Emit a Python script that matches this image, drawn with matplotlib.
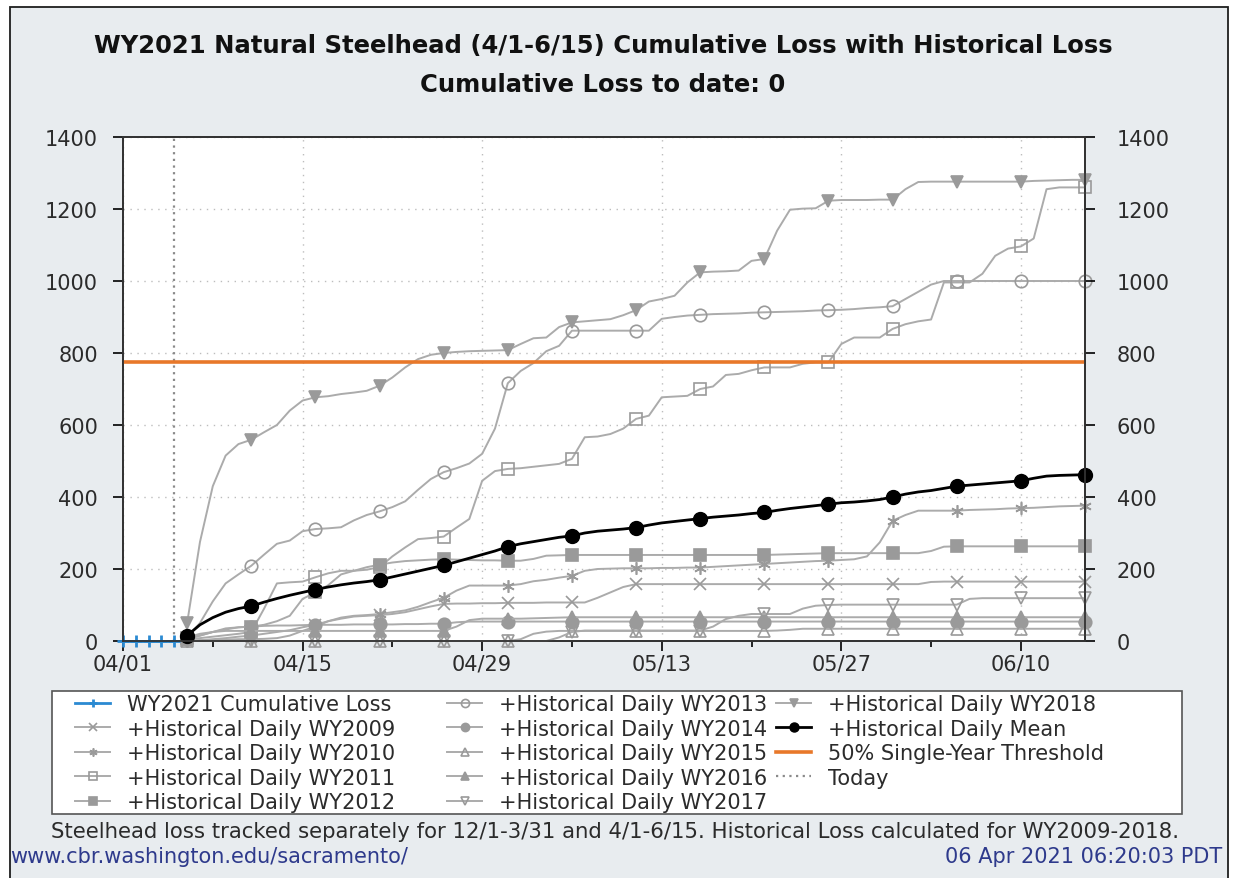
import matplotlib.pyplot as plt
from matplotlib.patches import Rectangle

# x positions are days after 04/01
days_2021 = [0, 1, 2, 3, 4]
loss_2021 = [0, 0, 0, 0, 0]
days_hist = list(range(5, 76))
today_day = 4
threshold = 775

tick_days = [0, 14, 28, 42, 56, 70]
tick_labels = ['04/01', '04/15', '04/29', '05/13', '05/27', '06/10']
minor_days = [7, 21, 35, 49, 63]
y_ticks = [0, 200, 400, 600, 800, 1000, 1200, 1400]

# daily cumulative loss, 04/06 .. 06/15 (first value, then 5-day blocks)
wy2009 = [0,
          2, 5, 8, 12, 15,
          20, 25, 30, 38, 45,
          55, 62, 68, 70, 72,
          75, 80, 88, 96, 103,
          104, 104, 105, 105, 106,
          106, 106, 107, 107, 107,
          107, 120, 135, 150, 158,
          158, 158, 158, 158, 158,
          158, 158, 158, 158, 158,
          158, 158, 158, 158, 158,
          158, 158, 158, 158, 158,
          158, 158, 164, 165, 165,
          165, 165, 165, 165, 165,
          165, 165, 165, 165, 165]
wy2010 = [0,
          2, 3, 4, 5, 5,
          6, 8, 15, 28, 40,
          55, 65, 70, 72, 75,
          80, 85, 95, 108, 120,
          140, 154, 154, 154, 154,
          158, 166, 170, 176, 181,
          195, 200, 201, 202, 202,
          202, 203, 203, 204, 204,
          206, 208, 210, 212, 214,
          216, 218, 220, 222, 223,
          225, 227, 235, 274, 334,
          350, 362, 362, 362, 362,
          364, 365, 366, 368, 369,
          370, 372, 374, 375, 376]
wy2011 = [5,
          8, 12, 16, 20, 25,
          90, 160, 163, 165, 177,
          188, 195, 195, 198, 205,
          235, 260, 283, 286, 290,
          315, 339, 445, 472, 478,
          480, 484, 488, 492, 506,
          566, 568, 575, 590, 617,
          626, 677, 679, 681, 700,
          707, 739, 742, 752, 760,
          760, 760, 770, 774, 774,
          825, 843, 843, 843, 867,
          880, 888, 893, 996, 996,
          996, 1020, 1070, 1090, 1096,
          1118, 1255, 1260, 1260, 1260]
wy2012 = [8,
          15, 25, 35, 38, 40,
          45, 55, 70, 117, 135,
          155, 185, 195, 205, 212,
          218, 222, 224, 226, 227,
          226, 225, 224, 224, 223,
          223, 228, 237, 238, 239,
          239, 239, 239, 239, 239,
          239, 239, 239, 239, 239,
          239, 239, 239, 239, 239,
          240, 241, 242, 243, 244,
          244, 244, 244, 244, 244,
          244, 244, 250, 262, 263,
          263, 263, 263, 263, 263,
          263, 263, 263, 263, 263]
wy2013 = [10,
          50, 110, 160, 185, 209,
          240, 270, 279, 305, 311,
          313, 316, 335, 350, 360,
          372, 388, 420, 450, 469,
          480, 493, 520, 590, 716,
          750, 772, 805, 820, 862,
          862, 862, 862, 862, 862,
          862, 895, 900, 904, 906,
          908, 909, 910, 912, 913,
          914, 915, 916, 918, 919,
          920, 922, 925, 927, 930,
          950, 970, 990, 1000, 1000,
          1000, 1000, 1000, 1000, 1000,
          1000, 1000, 1000, 1000, 1000]
wy2014 = [5,
          15, 25, 32, 38, 40,
          42, 43, 43, 44, 45,
          45, 45, 46, 46, 46,
          46, 47, 47, 48, 48,
          52, 54, 54, 54, 54,
          54, 54, 54, 54, 54,
          54, 54, 54, 54, 54,
          54, 54, 54, 54, 54,
          54, 54, 54, 54, 54,
          54, 54, 54, 54, 54,
          54, 54, 54, 54, 54,
          54, 54, 54, 54, 54,
          54, 54, 54, 54, 54,
          54, 54, 54, 54, 54]
wy2015 = [0,
          0, 0, 0, 0, 0,
          0, 0, 0, 0, 0,
          0, 0, 0, 0, 0,
          0, 0, 0, 0, 0,
          0, 0, 0, 0, 0,
          5, 20, 26, 28, 28,
          28, 28, 28, 28, 28,
          28, 28, 28, 28, 28,
          28, 28, 28, 28, 28,
          29, 31, 34, 34, 34,
          34, 34, 34, 34, 34,
          34, 34, 34, 34, 34,
          34, 34, 34, 34, 34,
          34, 34, 34, 34, 34]
wy2016 = [10,
          20, 25, 28, 28, 28,
          28, 28, 28, 28, 28,
          28, 28, 28, 28, 28,
          28, 28, 28, 28, 28,
          40, 58, 62, 62, 62,
          62, 63, 64, 65, 66,
          66, 66, 66, 66, 66,
          66, 66, 66, 66, 66,
          66, 66, 66, 66, 66,
          66, 66, 66, 66, 66,
          66, 66, 66, 66, 66,
          66, 66, 66, 66, 66,
          66, 66, 66, 66, 66,
          66, 66, 66, 66, 66]
wy2017 = [0,
          0, 0, 0, 0, 0,
          0, 0, 0, 0, 0,
          0, 0, 0, 0, 0,
          0, 0, 0, 0, 0,
          0, 0, 0, 0, 0,
          0, 0, 0, 10, 25,
          29, 29, 29, 29, 29,
          29, 29, 29, 29, 29,
          40, 61, 70, 75, 75,
          75, 75, 90, 98, 100,
          101, 101, 101, 101, 101,
          101, 101, 101, 101, 101,
          117, 119, 119, 119, 119,
          119, 119, 119, 119, 119]
wy2018 = [50,
          275, 430, 515, 547, 559,
          580, 600, 640, 668, 677,
          680, 686, 690, 695, 709,
          732, 760, 783, 795, 800,
          803, 805, 806, 807, 808,
          825, 841, 843, 872, 885,
          888, 891, 894, 905, 919,
          943, 950, 959, 996, 1024,
          1026, 1027, 1029, 1056, 1061,
          1140, 1198, 1201, 1202, 1223,
          1225, 1225, 1225, 1226, 1226,
          1255, 1275, 1276, 1276, 1276,
          1276, 1276, 1276, 1276, 1276,
          1278, 1279, 1280, 1281, 1281]
hist_mean = [15,
             45, 65, 80, 90, 97,
             108, 118, 127, 135, 143,
             150, 156, 161, 165, 170,
             178, 186, 194, 202, 210,
             220, 230, 240, 250, 262,
             270, 276, 282, 288, 292,
             300, 305, 308, 311, 315,
             322, 328, 332, 336, 340,
             344, 347, 350, 354, 357,
             363, 368, 372, 376, 380,
             384, 386, 389, 393, 400,
             408, 414, 418, 424, 430,
             433, 436, 439, 442, 445,
             452, 458, 460, 461, 462]

years = ['WY2009', 'WY2010', 'WY2011', 'WY2012', 'WY2013',
         'WY2014', 'WY2015', 'WY2016', 'WY2017', 'WY2018']
year_series = [wy2009, wy2010, wy2011, wy2012, wy2013,
               wy2014, wy2015, wy2016, wy2017, wy2018]
year_markers = [('x', True), ((6, 2, 0), True), ('s', False), ('s', True), ('o', False),
                ('o', True), ('^', False), ('^', True), ('v', False), ('v', True)]

GRAY_LINE = '#ababab'
GRAY_MARK = '#9a9a9a'
TEXT = '#2b2b2b'
FS = 15

fig = plt.figure(figsize=(12.33, 8.79), dpi=100)
fig.patch.set_facecolor('white')
fig.patches.append(Rectangle((10 / 1233, -0.01), 1218 / 1233, 1.01 - 8 / 879,
                             transform=fig.transFigure, facecolor='#e8ecef',
                             edgecolor='#1e1e1e', lw=1.3, zorder=-10))

ax = fig.add_axes([123 / 1233, 1 - 642 / 879, (1085 - 123) / 1233, (642 - 138) / 879])
ax.set_facecolor('white')

handles = []
h, = ax.plot(days_2021, loss_2021, color='#2b8ad2', lw=2, marker='+', ms=8, mew=2,
             label='WY2021 Cumulative Loss', zorder=6, clip_on=False)
handles.append(h)

mark_idx = [i for i, d in enumerate(days_hist) if d % 5 == 0]
for name, vals, (mk, filled) in zip(years, year_series, year_markers):
    h, = ax.plot(days_hist, vals, color=GRAY_LINE, lw=1.4, marker=mk, markevery=mark_idx,
                 ms=9, mec=GRAY_MARK, mfc=GRAY_MARK if filled else 'none', mew=1.2,
                 label='+Historical Daily ' + name, zorder=3, clip_on=False)
    handles.append(h)

h, = ax.plot(days_hist, hist_mean, color='black', lw=2, marker='o', markevery=mark_idx,
             ms=10, label='+Historical Daily Mean', zorder=4, clip_on=False)
handles.append(h)

h = ax.axhline(threshold, color='#e8782a', lw=2.6, label='50% Single-Year Threshold', zorder=5)
handles.append(h)
h = ax.axvline(today_day, color='#8a8a8a', lw=1.6, ls=(0, (1, 2)), label='Today', zorder=2)
handles.append(h)

ax.set_xlim(0, 75)
ax.set_ylim(0, 1400)
ax.set_xticks(tick_days)
ax.set_xticklabels(tick_labels)
ax.set_xticks(minor_days, minor=True)
ax.set_yticks(y_ticks)
ax.grid(True, color='#bdbdbd', ls=(0, (1, 4)), lw=1)
ax.tick_params(axis='x', which='major', direction='out', length=7, width=1.2,
               labelsize=FS, labelcolor=TEXT, pad=2)
ax.tick_params(axis='x', which='minor', direction='out', length=4, width=1.2)
ax.tick_params(axis='y', direction='out', length=7, width=1.2, labelsize=FS,
               labelcolor=TEXT, pad=11)
for sp in ax.spines.values():
    sp.set_color('#333333')
    sp.set_linewidth(1.3)

ax2 = ax.twinx()
ax2.set_ylim(0, 1400)
ax2.set_yticks(y_ticks)
ax2.tick_params(axis='y', direction='out', length=7, width=1.2, labelsize=FS,
                labelcolor=TEXT, pad=16)
for sp in ax2.spines.values():
    sp.set_color('#333333')
    sp.set_linewidth(1.3)

fig.text(603 / 1233, 1 - 46 / 879, 'WY2021 Natural Steelhead (4/1-6/15) Cumulative Loss with Historical Loss',
         ha='center', va='center', fontsize=17.5, fontweight='bold', color='#111111')
fig.text(603 / 1233, 1 - 85 / 879, 'Cumulative Loss to date: 0',
         ha='center', va='center', fontsize=17.5, fontweight='bold', color='#111111')

# legend: frame plus three columns placed where the reference has them
fig.patches.append(Rectangle((52 / 1233, 1 - 815 / 879), 1130 / 1233, 123 / 879,
                             transform=fig.transFigure, facecolor='white',
                             edgecolor='#555555', lw=1.2, zorder=1))
col_groups = [handles[0:5], handles[5:10], handles[10:14]]
col_left = [75, 447, 776]
for grp, x0 in zip(col_groups, col_left):
    leg = fig.legend(handles=grp, loc='upper left', bbox_to_anchor=(x0 / 1233, 1 - 695 / 879),
                     fontsize=FS, frameon=False, borderpad=0, borderaxespad=0,
                     labelspacing=0.22, handlelength=1.7, handletextpad=0.8,
                     markerscale=0.65)
    for t in leg.get_texts():
        t.set_color(TEXT)
    leg.set_zorder(2)

fig.text(615 / 1233, 1 - 832 / 879,
         'Steelhead loss tracked separately for 12/1-3/31 and 4/1-6/15. Historical Loss calculated for WY2009-2018.',
         ha='center', va='center', fontsize=15.3, color=TEXT)
fig.text(10 / 1233, 1 - 857 / 879, 'www.cbr.washington.edu/sacramento/',
         ha='left', va='center', fontsize=FS, color='#2e3a8c')
fig.text(1222 / 1233, 1 - 857 / 879, '06 Apr 2021 06:20:03 PDT',
         ha='right', va='center', fontsize=FS, color='#2e3a8c')

fig.savefig('out.png', dpi=100, facecolor=fig.get_facecolor())
